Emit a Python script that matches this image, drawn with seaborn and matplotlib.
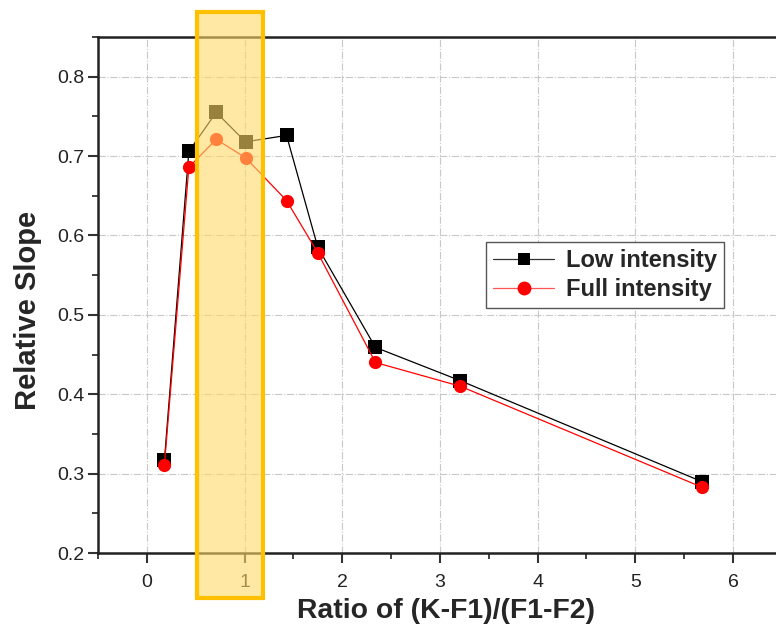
import matplotlib
matplotlib.use("Agg")
import matplotlib.pyplot as plt
import seaborn as sns
import pandas as pd
from matplotlib.patches import Rectangle
from matplotlib.lines import Line2D
from matplotlib.ticker import MultipleLocator

ratio = [0.18, 0.43, 0.71, 1.01, 1.43, 1.75, 2.34, 3.21, 5.68]
low_intensity = [0.317, 0.706, 0.755, 0.718, 0.726, 0.585, 0.459, 0.417, 0.290]
full_intensity = [0.311, 0.686, 0.721, 0.698, 0.644, 0.578, 0.440, 0.410, 0.283]
series_names = ["Low intensity", "Full intensity"]
x_ticks = [0, 1, 2, 3, 4, 5, 6]
y_ticks = [0.2, 0.3, 0.4, 0.5, 0.6, 0.7, 0.8]

df = pd.concat([
    pd.DataFrame({"x": ratio, "y": low_intensity, "series": series_names[0]}),
    pd.DataFrame({"x": ratio, "y": full_intensity, "series": series_names[1]}),
])

sns.set_style("white")
plt.rcParams["font.family"] = ["Liberation Sans", "DejaVu Sans"]

fig = plt.figure(figsize=(7.76, 6.28), dpi=100)
ax = fig.add_axes([98/776, 75/628, 1 - 98/776, (553-37)/628])

sns.lineplot(data=df, x="x", y="y", hue="series", style="series",
             palette={"Low intensity": "black", "Full intensity": "red"},
             markers={"Low intensity": "s", "Full intensity": "o"},
             dashes=False, linewidth=0.9, markersize=9.5, markeredgewidth=0,
             ax=ax, legend=False, sort=False)

ax.set_xlim(-0.5, 6.44)
ax.set_ylim(0.2, 0.85)
ax.xaxis.set_minor_locator(MultipleLocator(0.5))
ax.yaxis.set_minor_locator(MultipleLocator(0.05))
ax.set_xticks(x_ticks)
ax.set_yticks(y_ticks)
ax.set_xticklabels([str(v) for v in x_ticks])
ax.set_yticklabels([f"{v:.1f}" for v in y_ticks])

ax.tick_params(axis="both", which="major", direction="out", length=7, width=1.5,
               labelsize=14, color="#333333", labelcolor="#222222", bottom=True, left=True,
               pad=3)
ax.tick_params(axis="x", which="major", pad=8)
ax.tick_params(axis="both", which="minor", direction="out", length=4, width=1.3,
               color="#333333", bottom=True, left=True)

ax.grid(True, which="major", linestyle="-.", color="#c8c8c8", linewidth=0.8)
ax.set_axisbelow(True)

for s in ["left", "bottom", "top"]:
    ax.spines[s].set_linewidth(1.8)
    ax.spines[s].set_color("#222222")
ax.spines["right"].set_visible(False)

ax.set_xlabel("Ratio of (K-F1)/(F1-F2)", fontsize=20.4, fontweight="bold")
ax.set_ylabel("Relative Slope", fontsize=21, fontweight="bold")
ax.xaxis.set_label_coords(0.514, -0.088)
ax.yaxis.set_label_coords(-0.082, 0.471)

handles = [Line2D([], [], color="#333333", lw=0.9, marker="s", markersize=8,
                  markeredgewidth=0, markerfacecolor="black"),
           Line2D([], [], color="#ff5555", lw=0.9, marker="o", markersize=10,
                  markeredgewidth=0, markerfacecolor="red")]
leg = ax.legend(handles, series_names, loc="upper left", bbox_to_anchor=(0.572, 0.603),
                frameon=True, fancybox=False, edgecolor="#555555", framealpha=1,
                prop={"size": 17, "weight": "bold"}, handlelength=2.6,
                borderpad=0.3, labelspacing=0.25, handletextpad=0.5, borderaxespad=0)
leg.get_frame().set_linewidth(1.0)

rect = Rectangle((0.51, 0.143), 0.68, 0.738, facecolor="#FFD966", alpha=0.6,
                 edgecolor="none", clip_on=False, zorder=5)
ax.add_patch(rect)
rect2 = Rectangle((0.51, 0.143), 0.68, 0.738, facecolor="none",
                  edgecolor="#FFC000", linewidth=3, clip_on=False, zorder=6)
ax.add_patch(rect2)

fig.savefig("out.png", dpi=100)
